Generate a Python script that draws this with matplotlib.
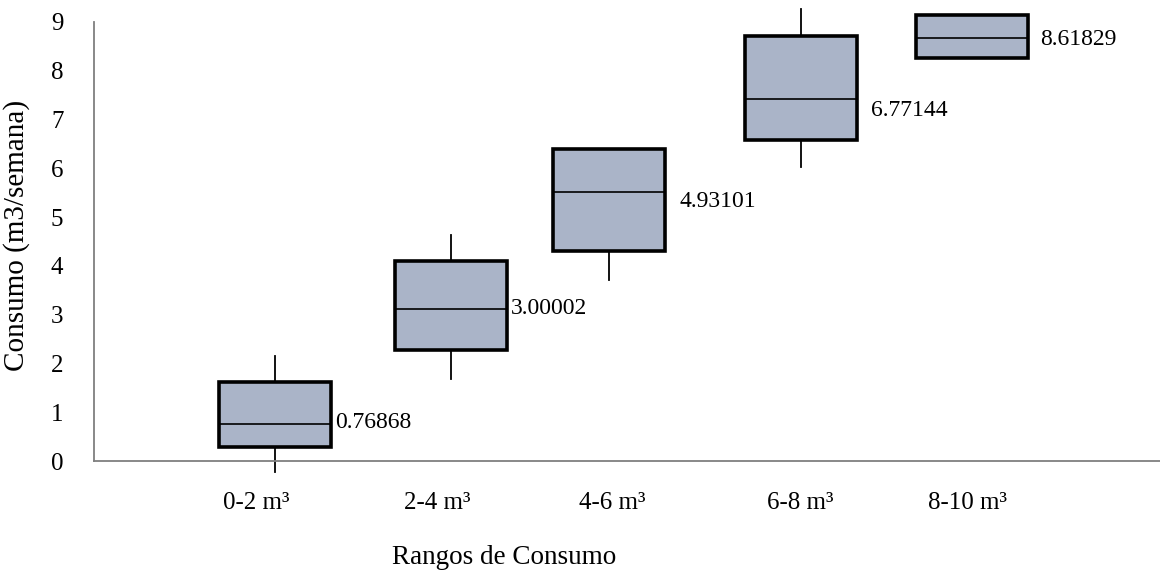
import matplotlib.pyplot as plt

# data
categories = ['0-2 m³', '2-4 m³', '4-6 m³', '6-8 m³', '8-10 m³']
q1 = [0.29, 2.27, 4.31, 6.58, 8.26]
med = [0.76, 3.11, 5.52, 7.42, 8.68]
q3 = [1.63, 4.10, 6.40, 8.71, 9.14]
whislo = [-0.23, 1.68, 3.71, 6.03, 8.26]
whishi = [2.15, 4.63, 6.40, 9.26, 9.14]
labels = ['0.76868', '3.00002', '4.93101', '6.77144', '8.61829']

# layout (box centres in pixel-like units, tick spots, label nudges)
positions = [275, 451, 609, 801, 972]
tick_pos = [256, 437, 612, 800, 968]
label_dx = [4, 4, 14, 14, 12]
label_dy = [2, 1, -10, -11, -2]

plt.rcParams['font.family'] = ['Liberation Serif', 'DejaVu Serif']

fig = plt.figure(figsize=(11.6, 5.81), dpi=100)
ax = fig.add_axes([94 / 1160, 0.156, 1 - 94 / 1160, 0.844])

stats = []
for i in range(len(categories)):
    stats.append(dict(q1=q1[i], med=med[i], q3=q3[i], whislo=whislo[i], whishi=whishi[i]))

ax.bxp(stats, positions=positions, widths=112, patch_artist=True,
       showcaps=False, showfliers=False, manage_ticks=False,
       boxprops=dict(facecolor='#aab4c8', edgecolor='black', linewidth=2.6),
       medianprops=dict(color='black', linewidth=1.2),
       whiskerprops=dict(color='black', linewidth=1.3))

for i in range(len(categories)):
    ax.annotate(labels[i], (positions[i] + 56, med[i]), xytext=(label_dx[i], label_dy[i]),
                textcoords='offset pixels', ha='left', va='center', fontsize=17)

ax.set_xlim(94, 1160)
ax.set_ylim(-0.6, 9.45)
ax.set_xticks(tick_pos)
ax.set_xticklabels(categories)
ax.set_yticks(range(10))
ax.tick_params(axis='y', labelsize=18, length=0, pad=22)
ax.tick_params(axis='x', labelsize=18, length=0, pad=22)

ax.spines['top'].set_visible(False)
ax.spines['right'].set_visible(False)
ax.spines['bottom'].set_position(('data', 0))
ax.spines['left'].set_bounds(0, 9)
for s in ['left', 'bottom']:
    ax.spines[s].set_color('#7f7f7f')
    ax.spines[s].set_linewidth(1.3)

ax.set_ylabel('Consumo (m3/semana)', fontsize=21)
ax.yaxis.set_label_coords(-0.06, 0.52)
ax.set_xlabel('Rangos de Consumo', fontsize=19.5)
ax.xaxis.set_label_coords((504 - 94) / (1160 - 94), -0.112)

fig.savefig('out.png', dpi=100)
